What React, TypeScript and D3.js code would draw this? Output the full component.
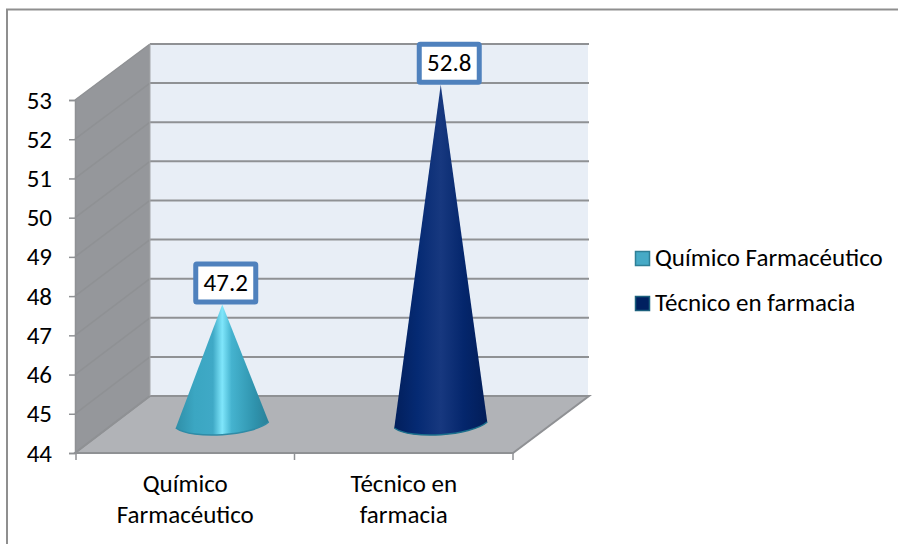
import { useEffect, useRef } from "react";
import * as d3 from "d3";

const categories = ["Químico Farmacéutico", "Técnico en farmacia"];
const categoryLines = [
  ["Químico", "Farmacéutico"],
  ["Técnico en", "farmacia"],
];
const values = [47.2, 52.8];
const yTicks = [44, 45, 46, 47, 48, 49, 50, 51, 52, 53];

const FONT = "Carlito, Calibri, 'Open Sans', 'Noto Sans', sans-serif";
const GRID = "#8f9194";

export default function App() {
  const svgRef = useRef<SVGSVGElement | null>(null);

  useEffect(() => {
    if (!svgRef.current) return;
    const svg = d3.select(svgRef.current);
    svg.selectAll("*").remove();

    // front edge of the plot, the back wall sits up and to the right of it
    const yFront = d3.scaleLinear().domain([44, 53]).range([453, 100]);
    const yBack = d3.scaleLinear().domain([44, 53]).range([396, 44]);
    const yMid = d3.scaleLinear().domain([44, 53]).range([430, 77]);
    const xFront = d3.scaleBand<string>().domain(categories).range([76, 513]);
    const depthX = 75;

    const defs = svg.append("defs");
    const coneGrad = (id: string, stops: [number, string][]) => {
      const g = defs.append("linearGradient").attr("id", id);
      stops.forEach(([o, c]) => g.append("stop").attr("offset", o).attr("stop-color", c));
    };
    coneGrad("cone0", [
      [0, "#2f8fa8"],
      [0.2, "#3ba6c2"],
      [0.4, "#3fa9c6"],
      [0.5, "#7fe6fb"],
      [0.6, "#45b3cf"],
      [0.85, "#2f93ad"],
      [1, "#2a8098"],
    ]);
    coneGrad("cone1", [
      [0, "#021f5c"],
      [0.25, "#052a73"],
      [0.5, "#17387f"],
      [0.75, "#04266c"],
      [1, "#021d58"],
    ]);

    const x0 = xFront.range()[0];
    const x1 = xFront.range()[1];
    const top = yFront.domain()[1];
    const base = yFront.domain()[0];

    // chart frame, only the top and left edges are inside the crop
    svg
      .append("path")
      .attr("d", "M7,544V9.5H898")
      .attr("fill", "none")
      .attr("stroke", "#8f8f8f")
      .attr("stroke-width", 2);

    // back wall
    svg
      .append("rect")
      .attr("x", x0 + depthX - 1)
      .attr("y", yBack(top))
      .attr("width", x1 - x0 + 1)
      .attr("height", yBack(base) - yBack(top))
      .attr("fill", "#e8eef6");

    // side wall
    svg
      .append("polygon")
      .attr(
        "points",
        [
          [x0 - 1, yFront(top)],
          [x0 + depthX - 1, yBack(top)],
          [x0 + depthX - 1, yBack(base)],
          [x0 - 1, yFront(base)],
        ].join(" "),
      )
      .attr("fill", "#95979b");

    // floor
    svg
      .append("polygon")
      .attr(
        "points",
        [
          [x0 + depthX - 1, yBack(base)],
          [x1 + depthX + 1, yBack(base)],
          [x1, yFront(base)],
          [x0 - 1, yFront(base)],
        ].join(" "),
      )
      .attr("fill", "#b1b3b7")
      .attr("stroke", GRID)
      .attr("stroke-width", 2);

    // gridlines on wall and side
    const grid = svg.append("g").attr("fill", "none").attr("stroke", GRID);
    yTicks.forEach((t) => {
      grid
        .append("line")
        .attr("x1", x0 + depthX - 1)
        .attr("x2", x1 + depthX + 1)
        .attr("y1", yBack(t))
        .attr("y2", yBack(t))
        .attr("stroke-width", 2);
      grid
        .append("line")
        .attr("x1", x0 - 1)
        .attr("x2", x0 + depthX - 1)
        .attr("y1", yFront(t))
        .attr("y2", yBack(t))
        .attr("stroke-width", 1.5);
    });

    // wall corner line
    svg
      .append("line")
      .attr("x1", x0 + depthX - 1)
      .attr("x2", x0 + depthX - 1)
      .attr("y1", yBack(top))
      .attr("y2", yBack(base))
      .attr("stroke", "#a4a6a9")
      .attr("stroke-width", 1);

    // y axis
    const axisY = svg
      .append("g")
      .attr("transform", `translate(${x0 - 1},0)`)
      .call(d3.axisLeft(yFront).tickValues(yTicks).tickSize(6).tickPadding(17).tickFormat(d3.format("d")));
    axisY.select(".domain").attr("stroke", GRID).attr("stroke-width", 1.5);
    axisY.selectAll("line").attr("stroke", GRID).attr("stroke-width", 1.5);
    axisY
      .selectAll("text")
      .attr("fill", "#000")
      .attr("font-family", FONT)
      .attr("font-size", 25);

    // x axis
    const axisX = svg.append("g").attr("transform", `translate(0,${yFront(base)})`);
    axisX
      .append("line")
      .attr("x1", x0 - 1)
      .attr("x2", x1)
      .attr("stroke", GRID)
      .attr("stroke-width", 2);
    [...categories.map((c) => xFront(c) as number), x1].forEach((tx) => {
      axisX
        .append("line")
        .attr("x1", tx)
        .attr("x2", tx)
        .attr("y1", 0)
        .attr("y2", 7)
        .attr("stroke", GRID)
        .attr("stroke-width", 1.5);
    });
    categories.forEach((c, i) => {
      const cx = (xFront(c) as number) + xFront.bandwidth() / 2;
      categoryLines[i].forEach((line, j) => {
        svg
          .append("text")
          .attr("x", cx)
          .attr("y", 492 + j * 31)
          .attr("text-anchor", "middle")
          .attr("font-family", FONT)
          .attr("font-size", 25)
          .attr("fill", "#000")
          .text(line);
      });
    });

    // cones
    const coneRx = 46.5;
    // the labels don't sit exactly over the apex in the original
    const labelShift = [3.5, 8.5];
    categories.forEach((c, i) => {
      const cx = (xFront(c) as number) + xFront.bandwidth() / 2 + depthX / 2 - 0.5;
      const cy = yMid(44) - 5;
      const apex = yMid(values[i]);
      const d = d3.path();
      d.moveTo(cx, apex);
      d.lineTo(cx + coneRx, cy - 3);
      d.bezierCurveTo(cx + 30, cy + 11, cx - 30, cy + 15, cx - coneRx, cy + 3);
      d.closePath();
      svg
        .append("path")
        .attr("d", d.toString())
        .attr("fill", `url(#cone${i})`);
      const rim = d3.path();
      rim.moveTo(cx + coneRx, cy - 3);
      rim.bezierCurveTo(cx + 30, cy + 11, cx - 30, cy + 15, cx - coneRx, cy + 3);
      svg
        .append("path")
        .attr("d", rim.toString())
        .attr("fill", "none")
        .attr("stroke", i === 0 ? "#2f8ba6" : "#1b6f8c")
        .attr("stroke-width", 1.5);

      // data label box
      const bw = 65;
      const bh = 43;
      const bx = cx + labelShift[i];
      const by = apex - bh;
      svg
        .append("rect")
        .attr("x", bx - bw / 2 + 2.5)
        .attr("y", by + 2.5)
        .attr("width", bw - 5)
        .attr("height", bh - 5)
        .attr("rx", 1)
        .attr("fill", "#fff")
        .attr("stroke", "#4f81bd")
        .attr("stroke-width", 5);
      svg
        .append("text")
        .attr("x", bx)
        .attr("y", by + bh / 2 + 8)
        .attr("text-anchor", "middle")
        .attr("font-family", FONT)
        .attr("font-size", 25)
        .attr("fill", "#000")
        .text(d3.format(".1f")(values[i]));
    });

    // legend
    const legendColors = ["#46aac6", "#002060"];
    const legendStroke = ["#2f7f96", "#1b5f7c"];
    categories.forEach((c, i) => {
      const ly = 258.5 + i * 45;
      svg
        .append("rect")
        .attr("x", 635.5)
        .attr("y", ly - 7)
        .attr("width", 14)
        .attr("height", 14)
        .attr("fill", legendColors[i])
        .attr("stroke", legendStroke[i])
        .attr("stroke-width", 1.5);
      svg
        .append("text")
        .attr("x", 655)
        .attr("y", ly + 7.5)
        .attr("font-family", FONT)
        .attr("font-size", 25)
        .attr("fill", "#000")
        .text(c);
    });
  }, []);

  return (
    <svg
      ref={svgRef}
      width={898}
      height={544}
      style={{ position: "absolute", left: 0, top: 0, background: "#fff" }}
    />
  );
}
